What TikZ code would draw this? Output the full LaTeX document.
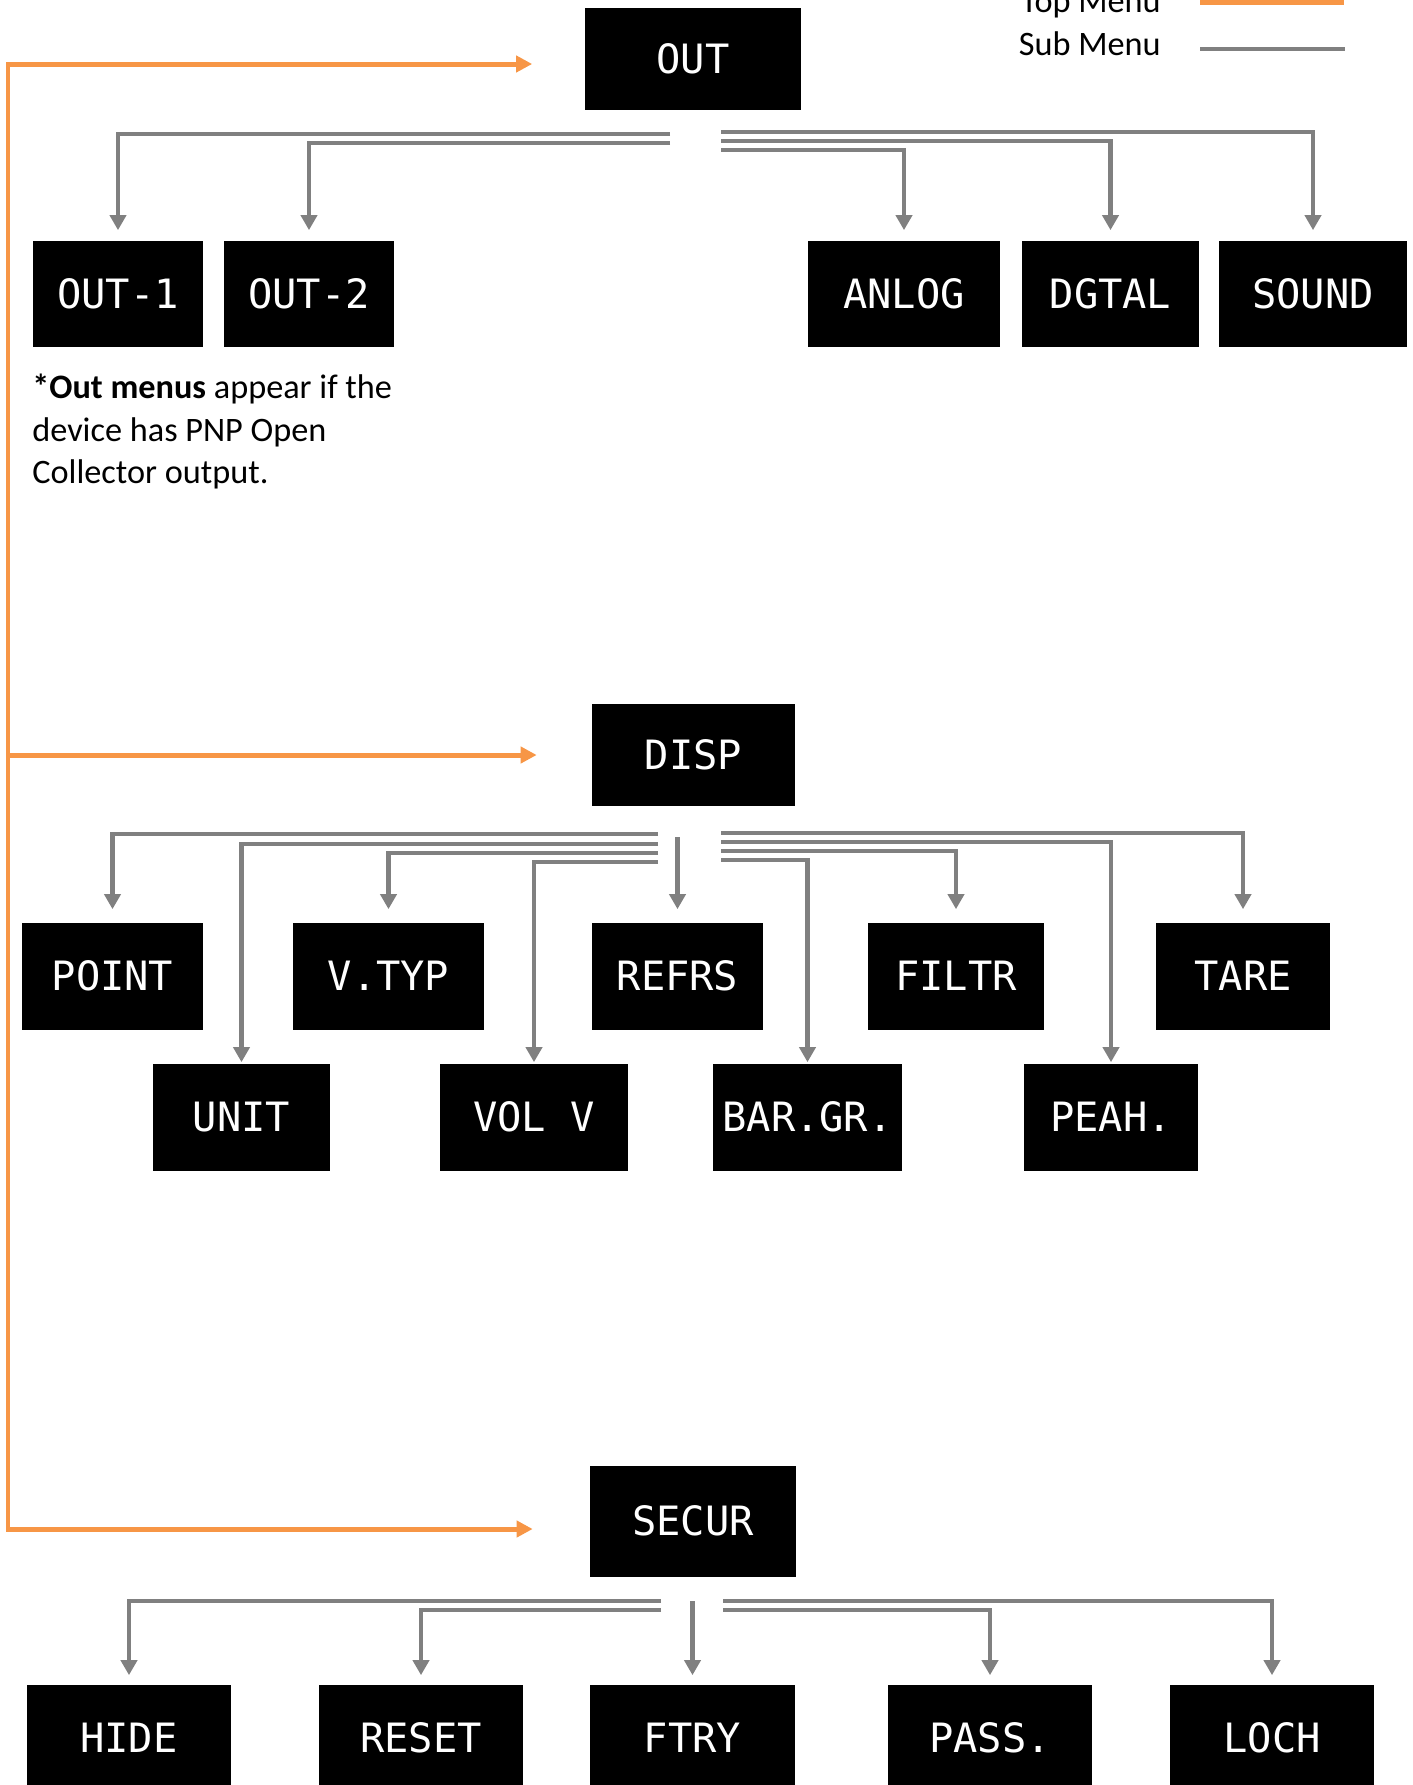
\documentclass[tikz,border=0pt]{standalone}
\usepackage{fontspec}
\setmainfont{Carlito}
\newfontfamily\lcdfont{DejaVu Sans Mono}
\usetikzlibrary{arrows.meta}
\usetikzlibrary{positioning}

\definecolor{menuorange}{RGB}{247,150,70}
\definecolor{menugray}{RGB}{128,128,128}

\tikzset{
  lcd/.style={fill=black,text=white,inner sep=0pt,minimum height=2.14cm,font=\lcdfont\fontsize{23}{28}\selectfont},
  topline/.style={draw=menuorange,line width=0.1cm},
  toparrow/.style={topline,-{Triangle[width=0.32cm,length=0.32cm]}},
  subline/.style={draw=menugray,line width=0.09cm,-{Triangle[width=0.32cm,length=0.3cm]}},
  keytext/.style={font=\fontsize{19.5}{24}\selectfont,inner sep=0pt},
}

\begin{document}
\begin{tikzpicture}[x=0.02cm,y=-0.02cm]
\useasboundingbox (0,0) rectangle (1413,1785);

% legend
\node[keytext,anchor=base east] (topkey) at (1161,12) {Top Menu};
\node[keytext,anchor=base east] (subkey) at (1161,55) {Sub Menu};
\draw[topline] (1200,2) -- (1344,2);
\draw[draw=menugray,line width=0.09cm] (1200,49) -- (1345,49);

% top menus
\node[lcd,minimum width=4.34cm,minimum height=2.04cm] (out) at (693,59) {OUT};
\node[lcd,minimum width=4.06cm,minimum height=2.04cm] (disp) at (693.5,755) {DISP};
\node[lcd,minimum width=4.12cm,minimum height=2.22cm] (secur) at (693,1521) {SECUR};

% OUT sub menus
\node[lcd,minimum width=3.40cm] (out1) at (118,294) {OUT-1};
\node[lcd,minimum width=3.40cm] (out2) at (309,294) {OUT-2};
\node[lcd,minimum width=3.84cm] (anlog) at (904,294) {ANLOG};
\node[lcd,minimum width=3.54cm] (dgtal) at (1110.5,294) {DGTAL};
\node[lcd,minimum width=3.76cm] (sound) at (1313,294) {SOUND};

\node[keytext,align=left,anchor=north west] (note) at (32,374)
  {\textbf{*Out menus} appear if the\\device has PNP Open\\Collector output.};

% DISP sub menus
\node[lcd,minimum width=3.62cm] (point) at (112.5,976) {POINT};
\node[lcd,minimum width=3.82cm] (vtyp) at (388.5,976) {V.TYP};
\node[lcd,minimum width=3.42cm] (refrs) at (677.5,976) {REFRS};
\node[lcd,minimum width=3.52cm] (filtr) at (956,976) {FILTR};
\node[lcd,minimum width=3.48cm] (tare) at (1243,976) {TARE};
\node[lcd,minimum width=3.54cm] (unit) at (241.5,1117) {UNIT};
\node[lcd,minimum width=3.76cm] (volv) at (534,1117) {VOL V};
\node[lcd,minimum width=3.78cm] (bargr) at (807.5,1117) {BAR.GR.};
\node[lcd,minimum width=3.48cm] (peak) at (1111,1117) {PEAH.};

% SECUR sub menus
\node[lcd,minimum width=4.08cm] (hide) at (129,1738) {HIDE};
\node[lcd,minimum width=4.08cm] (reset) at (421,1738) {RESET};
\node[lcd,minimum width=4.10cm] (ftry) at (692.5,1738) {FTRY};
\node[lcd,minimum width=4.08cm] (pass) at (990,1738) {PASS.};
\node[lcd,minimum width=4.08cm] (lock) at (1272,1738) {LOCH};

% top menu line
\coordinate (top-a) at (8,64);
\coordinate (top-b) at (8,755);
\coordinate (top-c) at (8,1529);
\draw[toparrow,{Triangle[width=0.32cm,length=0.32cm]}-{Triangle[width=0.32cm,length=0.32cm]},shorten <=1.04cm,shorten >=1.14cm]
  (top-a -| out.west) -- (top-a) -- (top-c) -- (top-c -| secur.west);
\draw[toparrow,shorten >=1.1cm] (top-b) -- (top-b -| disp.west);

% OUT branches
\coordinate (out-l1) at (670,134);
\coordinate (out-l2) at (670,143);
\coordinate (out-r1) at (721,132);
\coordinate (out-r2) at (721,141);
\coordinate (out-r3) at (721,150);
\begin{scope}[shorten >=0.2cm]
\draw[subline] (out-l1) -| (out1.north);
\draw[subline] (out-l2) -| (out2.north);
\draw[subline] (out-r1) -| (sound.north);
\draw[subline] (out-r2) -| (dgtal.north);
\draw[subline] (out-r3) -| (anlog.north);
\end{scope}

% DISP branches
\coordinate (disp-l1) at (658,834);
\coordinate (disp-l2) at (658,844);
\coordinate (disp-l3) at (658,853);
\coordinate (disp-l4) at (658,862);
\coordinate (disp-c) at (677.5,837);
\coordinate (disp-r1) at (721,833);
\coordinate (disp-r2) at (721,842);
\coordinate (disp-r3) at (721,851);
\coordinate (disp-r4) at (721,860);
\begin{scope}[shorten >=0.26cm]
\draw[subline] (disp-l1) -| (point.north);
\draw[subline] (disp-l3) -| (vtyp.north);
\draw[subline] (disp-c) -- (refrs.north);
\draw[subline] (disp-r3) -| (filtr.north);
\draw[subline] (disp-r1) -| (tare.north);
\end{scope}
\begin{scope}[shorten >=0.02cm]
\draw[subline] (disp-l2) -| (unit.north);
\draw[subline] (disp-l4) -| (volv.north);
\draw[subline] (disp-r4) -| (bargr.north);
\draw[subline] (disp-r2) -| (peak.north);
\end{scope}

% SECUR branches
\coordinate (secur-l1) at (661,1601);
\coordinate (secur-l2) at (661,1610);
\coordinate (secur-c) at (692.5,1601);
\coordinate (secur-r1) at (723,1601);
\coordinate (secur-r2) at (723,1610);
\begin{scope}[shorten >=0.18cm]
\draw[subline] (secur-l1) -| (hide.north);
\draw[subline] (secur-l2) -| (reset.north);
\draw[subline] (secur-c) -- (ftry.north);
\draw[subline] (secur-r2) -| (pass.north);
\draw[subline] (secur-r1) -| (lock.north);
\end{scope}

\end{tikzpicture}
\end{document}
